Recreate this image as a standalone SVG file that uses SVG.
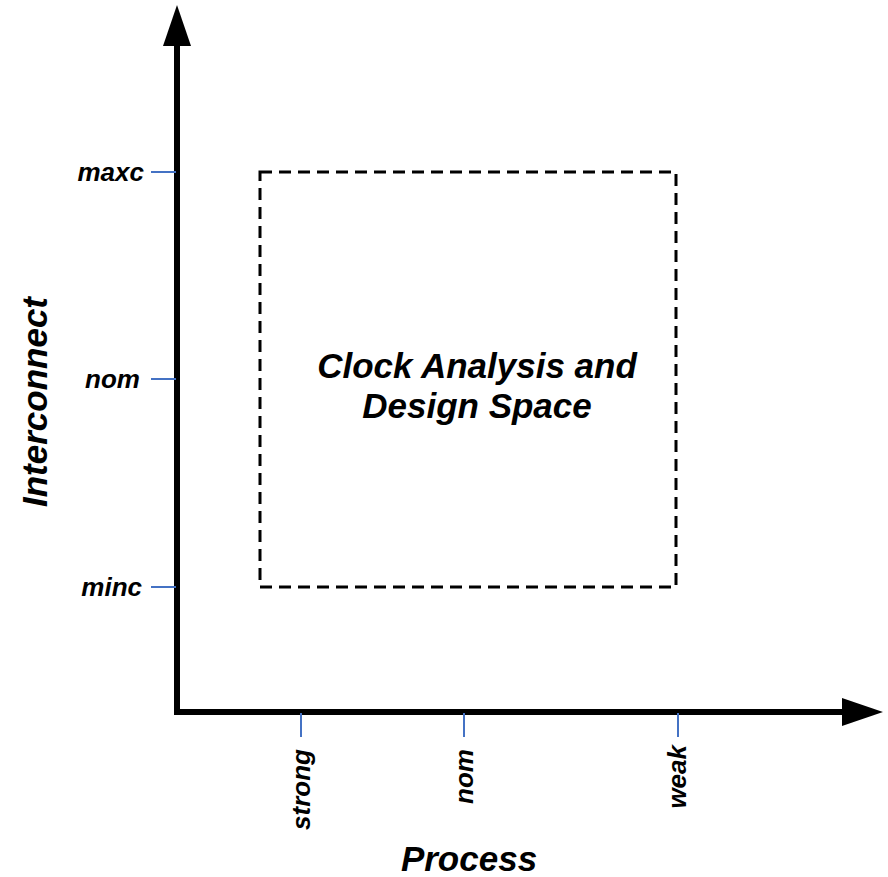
<svg xmlns="http://www.w3.org/2000/svg" width="888" height="877" viewBox="0 0 888 877">
<style>
.t{font-family:"Liberation Sans",Arial,sans-serif;font-weight:bold;font-style:italic;fill:#000}
.tick{stroke:#4472C4;stroke-width:2;fill:none}
.ax{stroke:#000;stroke-width:6;fill:none}
.lbl{font-size:26px}
.big{font-size:35px}
</style>
<rect width="888" height="877" fill="#fff"/>
<g id="connectors">
<line class="ax" x1="177" y1="715" x2="177" y2="44"/>
<polygon points="177,5 163,46 191,46" fill="#000"/>
<line class="ax" x1="174" y1="712" x2="844" y2="712"/>
<polygon points="883,712 842,698 842,726" fill="#000"/>
<line class="tick" x1="151" y1="172" x2="176" y2="172"/>
<line class="tick" x1="151" y1="379" x2="176" y2="379"/>
<line class="tick" x1="151" y1="587" x2="176" y2="587"/>
<line class="tick" x1="301" y1="713" x2="301" y2="737"/>
<line class="tick" x1="464" y1="713" x2="464" y2="737"/>
<line class="tick" x1="678" y1="713" x2="678" y2="737"/>
</g>
<g id="design-space">
<rect x="260" y="172" width="416" height="415" fill="none" stroke="#000" stroke-width="3" stroke-dasharray="12,7"/>
<text class="t big" text-anchor="middle" x="477" y="378">Clock Analysis and</text>
<text class="t big" text-anchor="middle" x="477" y="418">Design Space</text>
</g>
<g id="y-labels">
<text class="t lbl" text-anchor="end" x="144" y="181">maxc</text>
<text class="t lbl" text-anchor="end" x="140" y="388">nom</text>
<text class="t lbl" text-anchor="end" x="142" y="596">minc</text>
</g>
<g id="x-labels">
<text class="t lbl" text-anchor="end" transform="translate(310,749) rotate(-90)">strong</text>
<text class="t lbl" text-anchor="end" transform="translate(473,749) rotate(-90)">nom</text>
<text class="t lbl" text-anchor="end" transform="translate(686,745) rotate(-90)">weak</text>
</g>
<g id="axis-titles">
<text class="t big" text-anchor="middle" transform="translate(47,402) rotate(-90)">Interconnect</text>
<text class="t big" text-anchor="middle" x="469" y="871">Process</text>
</g>
</svg>
